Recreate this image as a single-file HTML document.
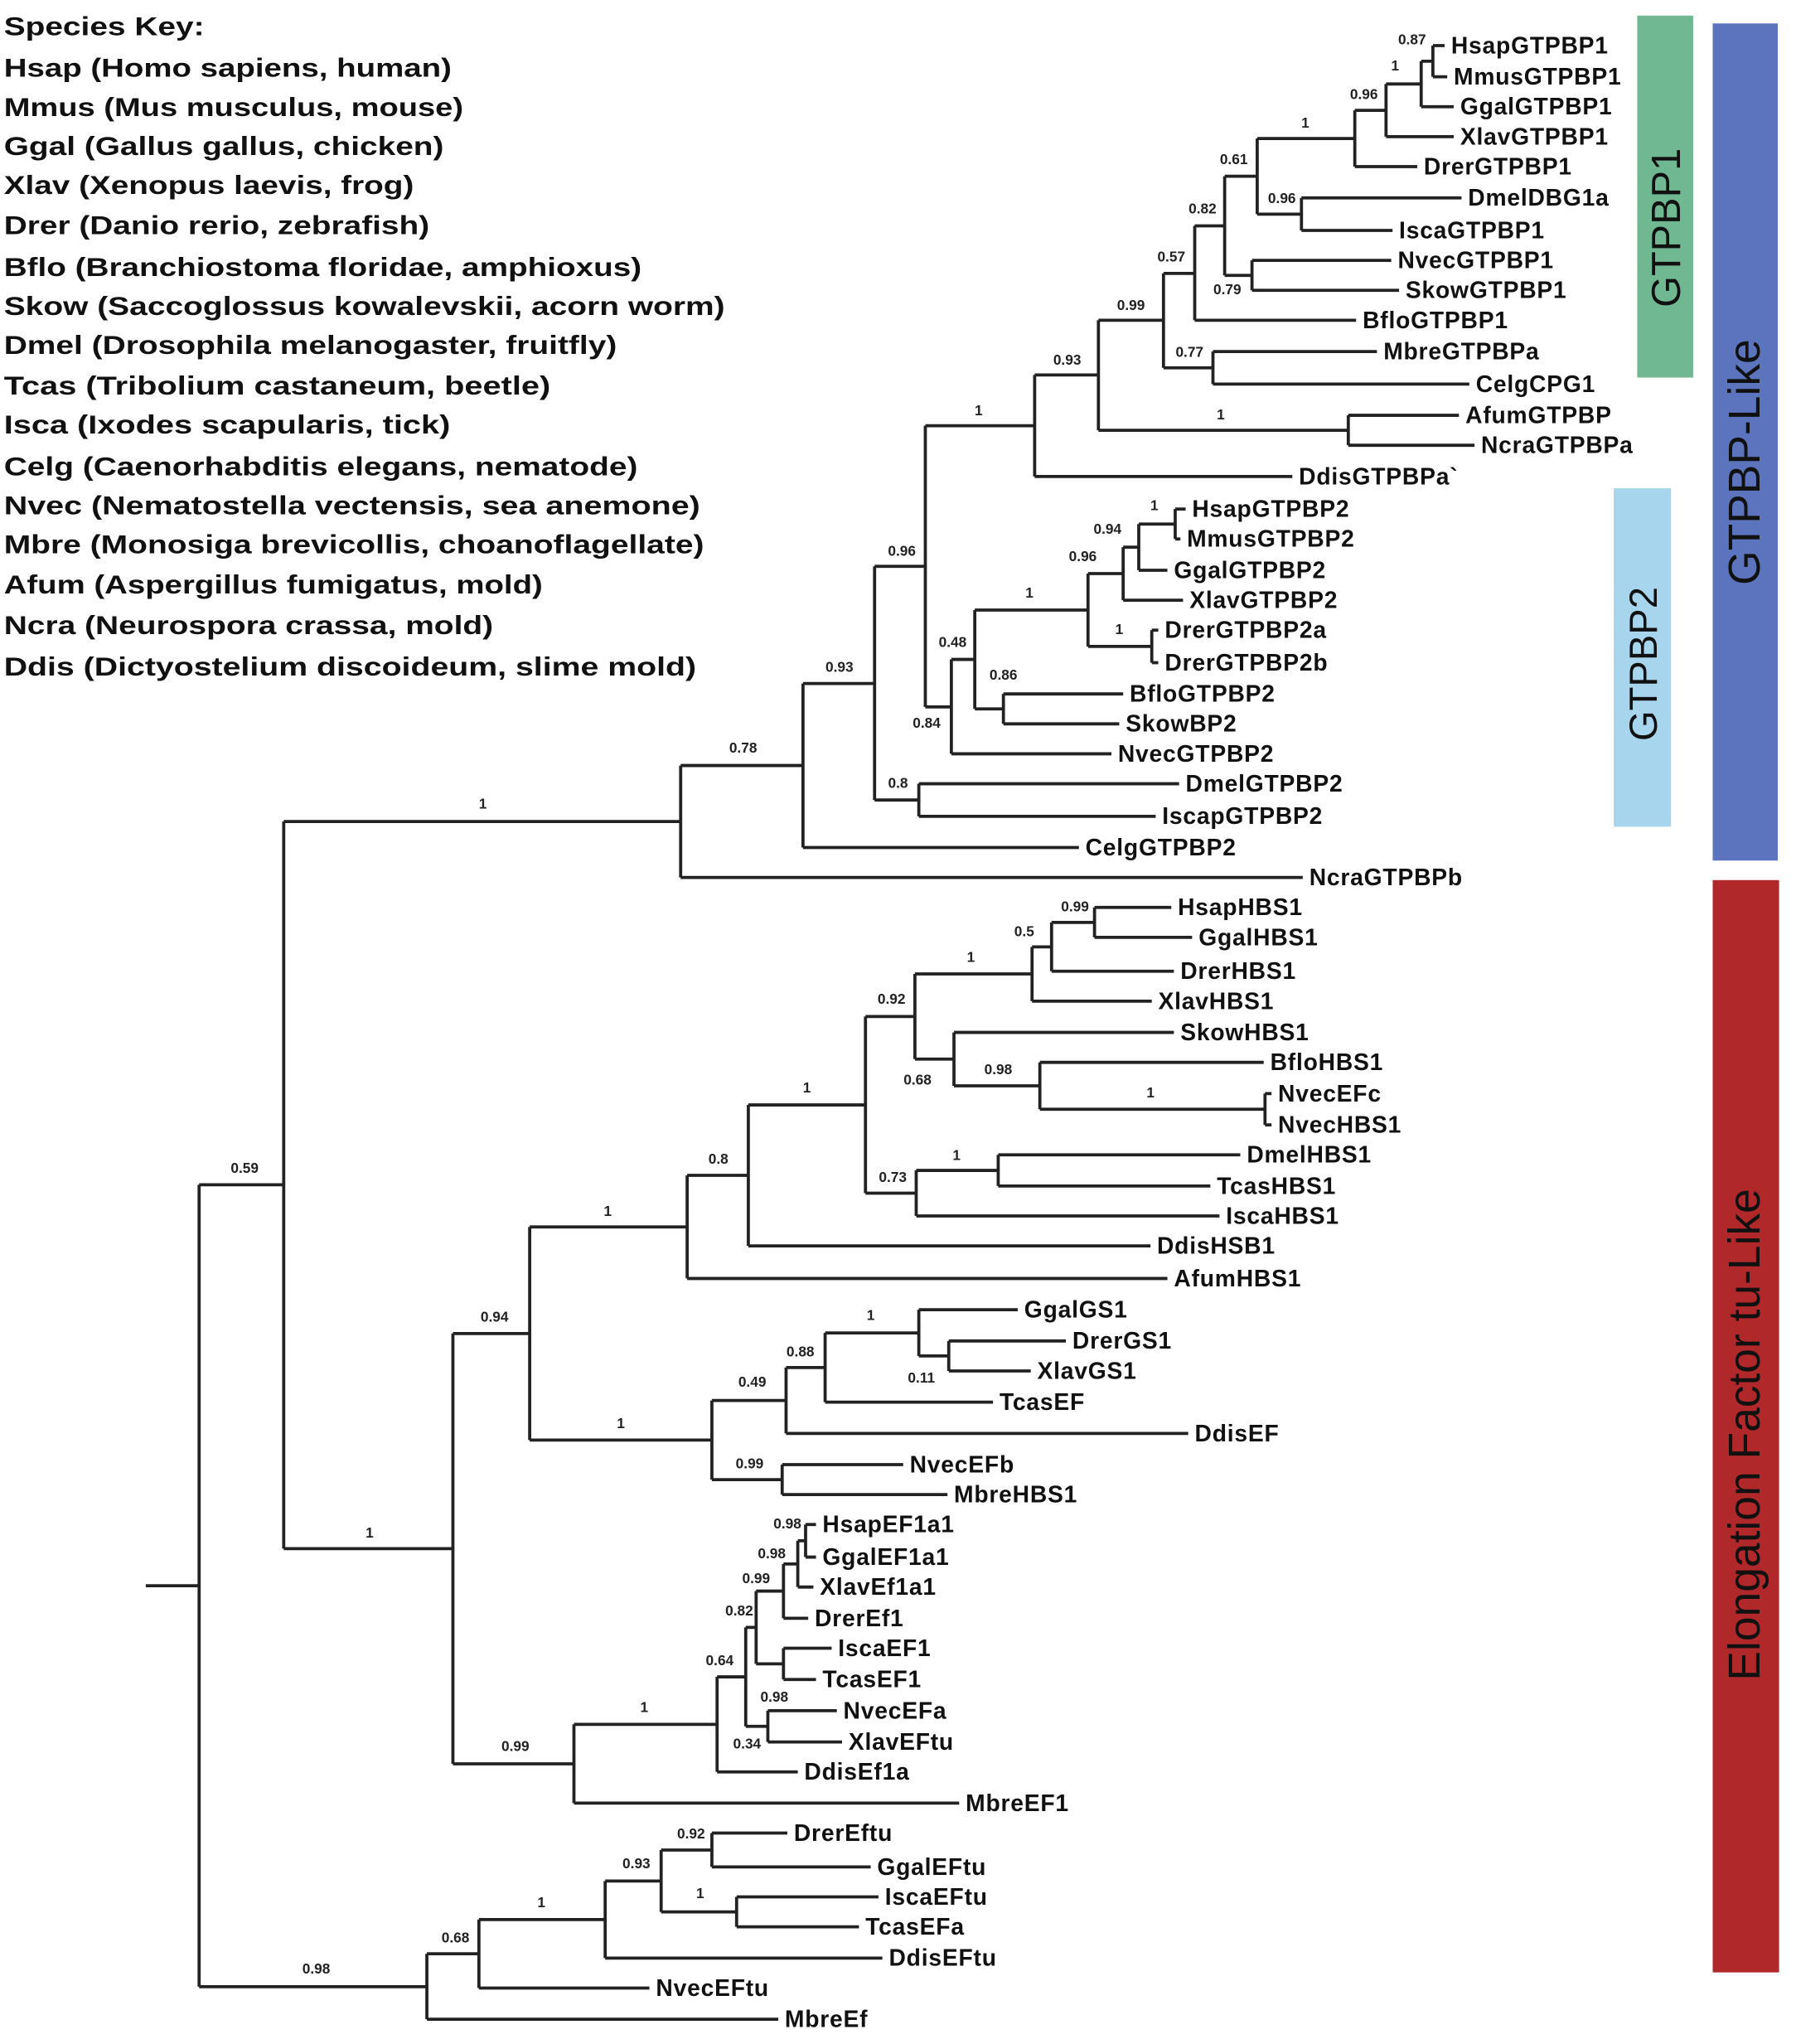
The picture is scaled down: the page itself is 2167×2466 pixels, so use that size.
<!DOCTYPE html>
<html><head><meta charset="utf-8"><style>html,body{margin:0;padding:0;background:#fff}svg{display:block}</style></head><body>
<svg width="2167" height="2466" viewBox="0 0 1380 1570" preserveAspectRatio="none" xmlns="http://www.w3.org/2000/svg">
<rect x="1258" y="12" width="43" height="278" fill="#6fb891"/>
<rect x="1240" y="375" width="44" height="260" fill="#a8d5ee"/>
<rect x="1316" y="18" width="50" height="643" fill="#5b74bd"/>
<rect x="1316" y="676" width="51" height="839" fill="#b0282a"/>
<g font-family="Liberation Sans, sans-serif" fill="#111" text-anchor="middle">
<text font-size="31" transform="translate(1291,175) rotate(-90)">GTPBP1</text>
<text font-size="30" transform="translate(1273,510) rotate(-90)">GTPBP2</text>
<text font-size="34" transform="translate(1352,355) rotate(-90)">GTPBP-Like</text>
<text font-size="34" transform="translate(1352,1102) rotate(-90)">Elongation Factor tu-Like</text>
</g>
<g stroke="#222" stroke-width="2.4" fill="none">
<path d="M112 1218H153M153 910V1526M153 910H218M153 1526H328
M218 631V1189.5M218 631H523M218 1189.5H348
M523 588V674M523 588H617M523 674H1001
M617 525V651M617 525H672M617 651H829
M672 435V614.5M672 435H711M672 614.5H706
M711 327V543M711 327H795M711 543H731
M795 288V366M795 288H844M795 366H993
M844 246V330.5M844 246H894M844 330.5H1036
M894 210V282.5M894 210H918M894 282.5H932
M918 173.5V246M918 173.5H941M918 246H1042
M941 135.4V211.5M941 135.4H966M941 211.5H962
M966 106.4V164.5M966 106.4H1041M966 164.5H1000
M1041 84.75V128M1041 84.75H1065M1041 128H1089
M1065 64.5V105M1065 64.5H1092M1065 105H1117
M1092 47V82M1092 47H1101M1092 82H1117
M1101 35V59M1101 35H1110M1101 59H1112
M1000 152V177M1000 152H1123M1000 177H1070
M962 200V223M962 200H1069M962 223H1075
M932 270V295M932 270H1058M932 295H1129
M1036 319V342M1036 319H1121M1036 342H1133
M731 506.5V579M731 506.5H749M731 579H854
M749 468.6V544.5M749 468.6H836M749 544.5H771
M771 533V556M771 533H863M771 556H860
M836 440.6V496.5M836 440.6H863M836 496.5H885
M885 484V509M885 484H890M885 509H890
M863 420.3V461M863 420.3H875M863 461H909
M875 402.5V438M875 402.5H903M875 438H897
M903 391V414M903 391H911M903 414H907
M706 602V627M706 602H906M706 627H888
M348 1024.3V1354.8M348 1024.3H407M348 1354.8H441
M407 942.4V1106.1M407 942.4H528M407 1106.1H547
M528 902.8V982M528 902.8H575M528 982H897
M575 848.7V957M575 848.7H665M575 957H884
M665 780.8V916.5M665 780.8H703M665 916.5H704
M703 748.1V813.5M703 748.1H793M703 813.5H733
M793 727.3V769M793 727.3H808M793 769H885
M808 708.5V746M808 708.5H841M808 746H902
M841 697V720M841 697H900M841 720H916
M733 793V834M733 793H902M733 834H799
M799 816V852M799 816H971M799 852H972
M972 840V864M972 840H977M972 864H977
M704 899V934M704 899H767M704 934H937
M767 887V911M767 887H953M767 911H930
M547 1075.7V1136.5M547 1075.7H604M547 1136.5H601
M604 1050.4V1101M604 1050.4H634M604 1101H913
M634 1023.8V1077M634 1023.8H706M634 1077H763
M706 1006V1041.5M706 1006H782M706 1041.5H729
M729 1030V1053M729 1030H819M729 1053H792
M601 1125V1148M601 1125H694M601 1148H728
M441 1324.5V1385M441 1324.5H551M441 1385H737
M551 1288V1361M551 1288H573M551 1361H613
M573 1250V1326M573 1250H581M573 1326H590
M581 1222.1V1278M581 1222.1H602M581 1278H602
M602 1201.3V1243M602 1201.3H613M602 1243H621
M613 1183.5V1219M613 1183.5H619M613 1219H625
M619 1171V1196M619 1171H627M619 1196H627
M602 1266V1290M602 1266H639M602 1290H627
M590 1314V1338M590 1314H643M590 1338H647
M328 1500.7V1551M328 1500.7H368M328 1551H598
M368 1474.4V1527M368 1474.4H465M368 1527H499
M465 1444.8V1504M465 1444.8H508M465 1504H678
M508 1421V1468.5M508 1421H547M508 1468.5H566
M547 1408V1434M547 1408H605M547 1434H669
M566 1457V1480M566 1457H675M566 1480H660"/>
</g>
<g font-family="Liberation Sans, sans-serif" font-weight="bold" font-size="18" fill="#111" letter-spacing="0.5">
<text x="1115" y="41">HsapGTPBP1</text><text x="1117" y="65">MmusGTPBP1</text><text x="1122" y="88">GgalGTPBP1</text><text x="1122" y="111">XlavGTPBP1</text><text x="1094" y="134">DrerGTPBP1</text><text x="1128" y="158">DmelDBG1a</text><text x="1075" y="183">IscaGTPBP1</text><text x="1074" y="206">NvecGTPBP1</text><text x="1080" y="229">SkowGTPBP1</text><text x="1047" y="252">BfloGTPBP1</text><text x="1063" y="276">MbreGTPBPa</text><text x="1134" y="301">CelgCPG1</text><text x="1126" y="325">AfumGTPBP</text><text x="1138" y="348">NcraGTPBPa</text><text x="998" y="372">DdisGTPBPa`</text>
<text x="916" y="397">HsapGTPBP2</text><text x="912" y="420">MmusGTPBP2</text><text x="902" y="444">GgalGTPBP2</text><text x="914" y="467">XlavGTPBP2</text><text x="895" y="490">DrerGTPBP2a</text><text x="895" y="515">DrerGTPBP2b</text><text x="868" y="539">BfloGTPBP2</text><text x="865" y="562">SkowBP2</text><text x="859" y="585">NvecGTPBP2</text><text x="911" y="608">DmelGTPBP2</text><text x="893" y="633">IscapGTPBP2</text><text x="834" y="657">CelgGTPBP2</text><text x="1006" y="680">NcraGTPBPb</text>
<text x="905" y="703">HsapHBS1</text><text x="921" y="726">GgalHBS1</text><text x="907" y="752">DrerHBS1</text><text x="890" y="775">XlavHBS1</text><text x="907" y="799">SkowHBS1</text><text x="976" y="822">BfloHBS1</text><text x="982" y="846">NvecEFc</text><text x="982" y="870">NvecHBS1</text><text x="958" y="893">DmelHBS1</text><text x="935" y="917">TcasHBS1</text><text x="942" y="940">IscaHBS1</text><text x="889" y="963">DdisHSB1</text><text x="902" y="988">AfumHBS1</text>
<text x="787" y="1012">GgalGS1</text><text x="824" y="1036">DrerGS1</text><text x="797" y="1059">XlavGS1</text><text x="768" y="1083">TcasEF</text><text x="918" y="1107">DdisEF</text><text x="699" y="1131">NvecEFb</text><text x="733" y="1154">MbreHBS1</text>
<text x="632" y="1177">HsapEF1a1</text><text x="632" y="1202">GgalEF1a1</text><text x="630" y="1225">XlavEf1a1</text><text x="626" y="1249">DrerEf1</text><text x="644" y="1272">IscaEF1</text><text x="632" y="1296">TcasEF1</text><text x="648" y="1320">NvecEFa</text><text x="652" y="1344">XlavEFtu</text><text x="618" y="1367">DdisEf1a</text><text x="742" y="1391">MbreEF1</text>
<text x="610" y="1414">DrerEftu</text><text x="674" y="1440">GgalEFtu</text><text x="680" y="1463">IscaEFtu</text><text x="665" y="1486">TcasEFa</text><text x="683" y="1510">DdisEFtu</text><text x="504" y="1533">NvecEFtu</text><text x="603" y="1557">MbreEf</text>
</g>
<g font-family="Liberation Sans, sans-serif" font-weight="bold" font-size="11" fill="#222" text-anchor="middle">
<text x="1085" y="34">0.87</text><text x="1072" y="54">1</text><text x="1048" y="76">0.96</text><text x="1003" y="98">1</text><text x="948" y="126">0.61</text><text x="985" y="156">0.96</text><text x="924" y="164">0.82</text><text x="900" y="201">0.57</text><text x="943" y="226">0.79</text><text x="869" y="238">0.99</text><text x="914" y="274">0.77</text><text x="820" y="280">0.93</text><text x="938" y="322">1</text><text x="752" y="319">1</text><text x="693" y="427">0.96</text><text x="887" y="392">1</text><text x="851" y="410">0.94</text><text x="832" y="431">0.96</text><text x="791" y="459">1</text><text x="860" y="487">1</text><text x="732" y="497">0.48</text><text x="771" y="522">0.86</text><text x="712" y="559">0.84</text><text x="645" y="516">0.93</text><text x="690" y="605">0.8</text><text x="571" y="578">0.78</text><text x="371" y="621">1</text><text x="188" y="901">0.59</text>
<text x="826" y="700">0.99</text><text x="787" y="719">0.5</text><text x="746" y="739">1</text><text x="685" y="771">0.92</text><text x="705" y="833">0.68</text><text x="767" y="825">0.98</text><text x="884" y="843">1</text><text x="620" y="839">1</text><text x="552" y="894">0.8</text><text x="686" y="908">0.73</text><text x="735" y="891">1</text><text x="467" y="934">1</text><text x="380" y="1015">0.94</text><text x="669" y="1014">1</text><text x="615" y="1042">0.88</text><text x="578" y="1065">0.49</text><text x="708" y="1062">0.11</text><text x="477" y="1097">1</text><text x="576" y="1128">0.99</text><text x="284" y="1181">1</text><text x="605" y="1174">0.98</text><text x="593" y="1197">0.98</text><text x="581" y="1216">0.99</text><text x="568" y="1241">0.82</text><text x="553" y="1279">0.64</text><text x="595" y="1307">0.98</text><text x="574" y="1343">0.34</text><text x="495" y="1315">1</text><text x="396" y="1345">0.99</text><text x="531" y="1412">0.92</text><text x="489" y="1435">0.93</text><text x="538" y="1458">1</text><text x="416" y="1465">1</text><text x="350" y="1492">0.68</text><text x="243" y="1516">0.98</text>
</g>
<g font-family="Liberation Sans, sans-serif" font-weight="bold" font-size="20" fill="#111">
<text x="3" y="27" textLength="154" lengthAdjust="spacingAndGlyphs">Species Key:</text>
<text x="3" y="59" textLength="344" lengthAdjust="spacingAndGlyphs">Hsap (Homo sapiens, human)</text>
<text x="3" y="89" textLength="353" lengthAdjust="spacingAndGlyphs">Mmus (Mus musculus, mouse)</text>
<text x="3" y="119" textLength="338" lengthAdjust="spacingAndGlyphs">Ggal (Gallus gallus, chicken)</text>
<text x="3" y="149" textLength="315" lengthAdjust="spacingAndGlyphs">Xlav (Xenopus laevis, frog)</text>
<text x="3" y="180" textLength="327" lengthAdjust="spacingAndGlyphs">Drer (Danio rerio, zebrafish)</text>
<text x="3" y="212" textLength="490" lengthAdjust="spacingAndGlyphs">Bflo (Branchiostoma floridae, amphioxus)</text>
<text x="3" y="242" textLength="554" lengthAdjust="spacingAndGlyphs">Skow (Saccoglossus kowalevskii, acorn worm)</text>
<text x="3" y="272" textLength="471" lengthAdjust="spacingAndGlyphs">Dmel (Drosophila melanogaster, fruitfly)</text>
<text x="3" y="303" textLength="420" lengthAdjust="spacingAndGlyphs">Tcas (Tribolium castaneum, beetle)</text>
<text x="3" y="333" textLength="343" lengthAdjust="spacingAndGlyphs">Isca (Ixodes scapularis, tick)</text>
<text x="3" y="365" textLength="487" lengthAdjust="spacingAndGlyphs">Celg (Caenorhabditis elegans, nematode)</text>
<text x="3" y="395" textLength="535" lengthAdjust="spacingAndGlyphs">Nvec (Nematostella vectensis, sea anemone)</text>
<text x="3" y="425" textLength="538" lengthAdjust="spacingAndGlyphs">Mbre (Monosiga brevicollis, choanoflagellate)</text>
<text x="3" y="456" textLength="414" lengthAdjust="spacingAndGlyphs">Afum (Aspergillus fumigatus, mold)</text>
<text x="3" y="487" textLength="376" lengthAdjust="spacingAndGlyphs">Ncra (Neurospora crassa, mold)</text>
<text x="3" y="519" textLength="532" lengthAdjust="spacingAndGlyphs">Ddis  (Dictyostelium discoideum, slime mold)</text>
</g>
</svg>
</body></html>
